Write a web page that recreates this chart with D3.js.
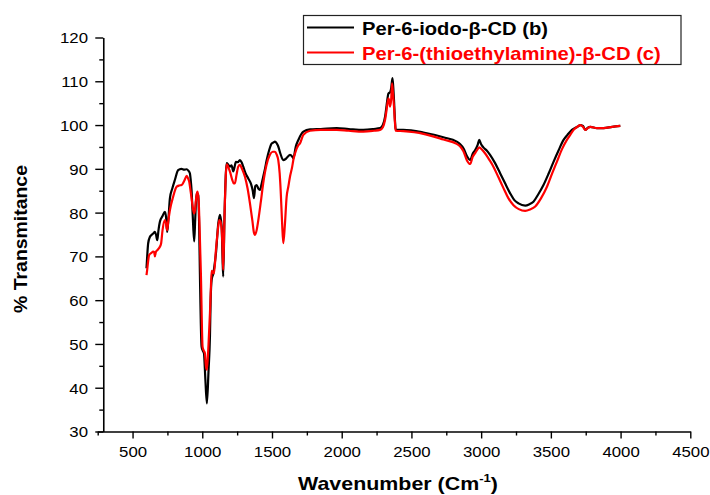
<!DOCTYPE html>
<html>
<head>
<meta charset="utf-8">
<script src="https://cdn.jsdelivr.net/npm/d3@7"></script>
<style>
html,body{margin:0;padding:0;background:#fff;}
svg{display:block;font-family:"Liberation Sans",Arial,sans-serif;}
</style>
</head>
<body>
<svg id="chart" width="710" height="495"></svg>
<script>
// ---- data ----
const seriesNames = ["Per-6-iodo-\u03b2-CD (b)", "Per-6-(thioethylamine)-\u03b2-CD (c)"];
const seriesColors = ["#000000", "#ff0000"];

const iodoWavenumber = [600,605,612,625,636,650,660,668,677,686,696,715,732,740,748,756,768,785,804,827,850,870,888,900,911,917,923,932,942,950,959,971,977,983,995,1003,1012,1022,1033,1045,1055,1060,1067,1079,1090,1098,1115,1127,1139,1145,1150,1160,1175,1185,1198,1210,1222,1232,1241,1255,1270,1282,1294,1310,1330,1350,1362,1371,1380,1390,1402,1414,1425,1437,1450,1462,1480,1498,1510,1521,1534,1545,1560,1581,1600,1629,1645,1653,1670,1689,1725,1773,1850,1964,2050,2155,2230,2275,2295,2311,2322,2335,2347,2355,2364,2370,2375,2382,2387,2442,2586,2729,2825,2850,2873,2900,2921,2940,2957,2975,2986,3000,3016,3040,3064,3100,3136,3170,3208,3240,3268,3316,3345,3375,3410,3447,3485,3519,3555,3591,3620,3651,3690,3711,3730,3747,3765,3783,3830,3878,3940,3998];
const iodoTransmittance = [67.3,70,73,74.5,74.9,75.3,75.6,75,73.7,76,77.9,79.2,80.2,79,75.6,78,83.3,85.5,87.5,89.7,90,89.8,89.9,89.6,89,87.5,85.2,79,73.4,79,84.4,84,78,66.1,49.4,48.5,47.9,42,36.4,44,51.7,60,64.6,66.1,68.5,70.7,77.6,79.5,76.8,70,65.4,80,91.3,91,90.5,90.8,89.4,90.5,91.6,91.5,92,91.5,90.5,89,87.8,86.5,85,83.3,86,86.3,85.5,85.2,86.5,88.2,90,92,94.3,95.8,96,96.2,95.8,95.1,93.5,92,92.3,93.2,92.8,92.4,95,96.6,98.5,99,99.1,99.3,99.1,98.9,99.1,99.3,100,101.9,104.5,107.2,107.5,108.5,110.7,108.5,105.7,101,98.9,98.9,98.3,97.2,96.2,95.6,94.7,92.8,92,93.5,94.3,95.5,96.6,95.6,94.9,94.2,93.2,91.3,89,86.8,84.4,82.8,82.1,81.6,81.9,82.5,84.2,86.3,89,91.6,94.2,96.6,97.8,98.9,99.6,100,99.8,98.9,99.4,99.6,99.3,99.3,99.6,99.8];

const thioWavenumber = [600,605,612,619,635,648,655,660,667,680,696,705,715,732,740,748,756,768,790,816,835,852,870,888,895,906,918,935,941,947,955,964,970,976,983,990,1002,1010,1019,1026,1033,1045,1055,1062,1067,1075,1084,1098,1110,1122,1130,1139,1145,1150,1160,1175,1185,1198,1215,1225,1234,1245,1258,1270,1285,1306,1325,1342,1360,1370,1378,1390,1402,1420,1437,1460,1485,1505,1521,1533,1545,1555,1562,1572,1581,1592,1605,1617,1629,1645,1653,1665,1689,1701,1725,1773,1850,1964,2050,2155,2230,2275,2295,2311,2322,2335,2341,2347,2355,2361,2367,2375,2382,2387,2442,2586,2729,2825,2850,2873,2900,2921,2940,2957,2975,2986,3005,3029,3060,3088,3125,3160,3195,3232,3270,3316,3350,3388,3430,3472,3510,3543,3580,3615,3640,3663,3690,3711,3730,3747,3765,3783,3830,3878,3940,3998];
const thioTransmittance = [65.7,67,69,70.3,70.8,71.1,71,70,71,71.5,72.2,73,76,78.3,77.5,76,78,80.6,83.5,85.9,86.2,86.3,87.2,88.4,88,87.1,84.5,80.6,79.8,80.4,83,84.8,84,81.3,74,66.1,49.4,48.5,47.9,45,44.1,50,57,63,66.7,66.5,66.1,71.5,75.5,78.3,78,76.1,72,66.9,80,91,90.5,89.4,87.5,86.7,86.7,88.5,90.5,90.9,90,88.2,85.5,82.1,78,75.5,74.9,76,78.3,82.5,86.7,90.8,93.2,93.9,93.9,93.3,92,89,85.2,78,73,77,83.6,85.9,88.2,90.5,92,93.5,95.4,95.8,97.8,98.7,98.9,98.9,98.7,98.5,98.7,98.9,99.5,101.2,103.5,106.1,105.5,104.2,106,109.5,107.5,104.2,100.5,98.7,98.6,98,96.7,95.7,95.1,94,91.8,91.1,92.8,93.6,94.5,94.9,94.4,93.5,92,90.5,88,85.6,83.3,81.7,80.8,80.4,80.7,81.4,83.3,85.9,89,91.6,94.5,96.6,97.8,98.9,99.6,100,99.6,98.9,99.3,99.6,99.3,99.3,99.6,99.8];

const xDomain = [250, 4500];
const yDomain = [30, 120];
const xMajorTicks = [500,1000,1500,2000,2500,3000,3500,4000,4500];
const xMinorTicks = [250,750,1250,1750,2250,2750,3250,3750,4250];
const yMajorTicks = [30,40,50,60,70,80,90,100,110,120];
const yMinorTicks = [35,45,55,65,75,85,95,105,115];
const yAxisAtWavenumber = 290;
const xTitle = "Wavenumber (Cm";
const xTitleSup = "-1";
const yTitle = "% Transmitance";

// ---- layout ----
const svg = d3.select("#chart");
const x = d3.scaleLinear().domain(xDomain).range([97.7, 690.3]);
const y = d3.scaleLinear().domain(yDomain).range([431.5, 37.5]);
const y0x = x(yAxisAtWavenumber);

function fitX(sel, target) {
  const w = sel.node().getComputedTextLength();
  return target / w;
}

// lines
const series = [
  {xs: iodoWavenumber, ys: iodoTransmittance},
  {xs: thioWavenumber, ys: thioTransmittance}
];
const line = d3.line().x(d => x(d[0])).y(d => y(d[1])).curve(d3.curveMonotoneX);
series.forEach((s, i) => {
  const pts = s.xs.map((v, k) => [v, s.ys[k]]);
  svg.append("path").datum(pts)
    .attr("fill", "none").attr("stroke", seriesColors[i])
    .attr("stroke-width", 2.2).attr("stroke-linejoin", "round")
    .attr("d", line);
});

// x axis
const fmt = d3.format("d");
const xg = svg.append("g").attr("transform", `translate(0,${y(yDomain[0])})`);
xg.call(d3.axisBottom(x).tickValues(xMajorTicks).tickFormat(fmt).tickSize(7).tickPadding(8).tickSizeOuter(0));
const xmg = svg.append("g").attr("transform", `translate(0,${y(yDomain[0])})`);
xmg.call(d3.axisBottom(x).tickValues(xMinorTicks).tickSize(4).tickFormat("").tickSizeOuter(0));
xmg.select(".domain").remove();

// y axis
const yg = svg.append("g").attr("transform", `translate(${y0x},0)`);
yg.call(d3.axisLeft(y).tickValues(yMajorTicks).tickFormat(fmt).tickSize(8).tickPadding(7).tickSizeOuter(0));
const ymg = svg.append("g").attr("transform", `translate(${y0x},0)`);
ymg.call(d3.axisLeft(y).tickValues(yMinorTicks).tickSize(4).tickFormat("").tickSizeOuter(0));
ymg.select(".domain").remove();

svg.selectAll(".domain").attr("stroke", "#000").attr("stroke-width", 1.6);
svg.selectAll(".tick line").attr("stroke", "#000").attr("stroke-width", 1.4);
svg.selectAll(".tick text").attr("font-family", "Liberation Sans, Arial, sans-serif")
  .attr("font-size", 15).attr("fill", "#000");
xg.selectAll(".tick text").attr("transform", "scale(1.12,1)");
yg.selectAll(".tick text").attr("x", -15.3 / 1.12).attr("dy", "0.36em").attr("transform", "scale(1.12,1)");

// axis titles
const xt = svg.append("text").attr("text-anchor", "middle")
  .attr("font-size", 18).attr("font-weight", "bold").attr("fill", "#000");
xt.append("tspan").text(xTitle);
xt.append("tspan").attr("font-size", 11).attr("dy", -8).text(xTitleSup);
xt.append("tspan").attr("dy", 8).text(")");
const sxT = fitX(xt, 200);
xt.attr("transform", `translate(398,489.5) scale(${sxT},1)`);

const yt = svg.append("text").attr("text-anchor", "middle")
  .attr("font-size", 19).attr("font-weight", "bold").attr("fill", "#000").text(yTitle);
const syT = fitX(yt, 148);
yt.attr("transform", `translate(27,239) rotate(-90) scale(${syT},1)`);

// legend
const lg = svg.append("g");
lg.append("rect").attr("x", 303.5).attr("y", 15.5).attr("width", 377.5).attr("height", 49)
  .attr("fill", "#fff").attr("stroke", "#222").attr("stroke-width", 1.2);
const legendY = [27.5, 52.5];
const legendTextW = [186, 299];
seriesNames.forEach((name, i) => {
  lg.append("line").attr("x1", 307).attr("x2", 354).attr("y1", legendY[i]).attr("y2", legendY[i])
    .attr("stroke", seriesColors[i]).attr("stroke-width", 2);
  const t = lg.append("text").attr("font-size", 17.5).attr("font-weight", "bold")
    .attr("fill", seriesColors[i]).text(name);
  const s = fitX(t, legendTextW[i]);
  t.attr("transform", `translate(362,${legendY[i] + 7.5}) scale(${s},1)`);
});
</script>
</body>
</html>
